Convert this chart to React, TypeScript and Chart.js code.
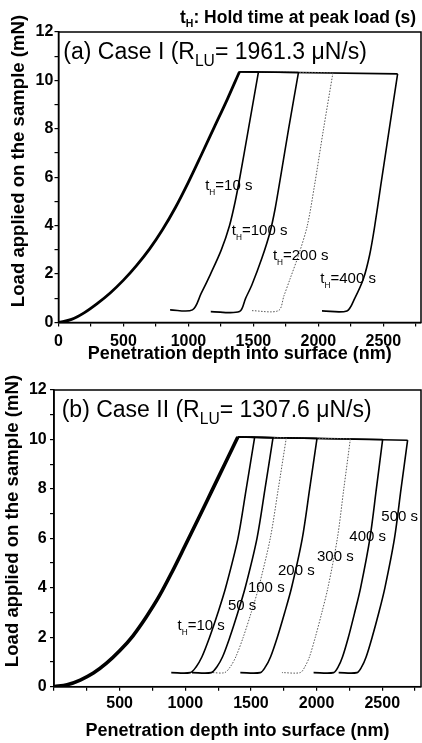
import React, { useEffect, useRef } from "react";
import { Chart, registerables } from "chart.js";

Chart.register(...registerables);

const FONT = "'Liberation Sans', Arial, Helvetica, sans-serif";

// ---------------- Axis ticks ----------------
const X_TICKS = [0, 250, 500, 750, 1000, 1250, 1500, 1750, 2000, 2250, 2500, 2750];
const Y_TICKS = [0, 1, 2, 3, 4, 5, 6, 7, 8, 9, 10, 11, 12];

// ---------------- Panel (a): Case I ----------------
const A_LOADING_DEPTH = [0, 100, 200, 300, 400, 500, 600, 700, 800, 900, 1000, 1100, 1200, 1300, 1393];
const A_LOADING_LOAD = [0, 0.13, 0.41, 0.79, 1.23, 1.75, 2.35, 3.03, 3.83, 4.75, 5.8, 6.93, 8.08, 9.23, 10.36];

// each hold-time curve: hold start, hold end, unloading points, end of the low-load plateau
const A_T10_DEPTH = [1393, 1539, 1462, 1396, 1360, 1316, 1253, 1170, 1098, 1031, 859];
const A_T10_LOAD = [10.36, 10.35, 8, 6, 5, 4, 3, 2, 1.2, 0.52, 0.52];

const A_T100_DEPTH = [1393, 1847, 1771, 1712, 1668, 1629, 1565, 1488, 1440, 1393, 1172];
const A_T100_LOAD = [10.36, 10.33, 8, 6.1, 4.72, 3.75, 2.65, 1.55, 1.0, 0.45, 0.45];

const A_T200_DEPTH = [1393, 2112, 2040, 1970, 1915, 1848, 1782, 1735, 1693, 1483];
const A_T200_LOAD = [10.36, 10.31, 8, 5.65, 4, 2.79, 1.8, 1.1, 0.49, 0.49];

const A_T400_DEPTH = [1393, 2610, 2546, 2480, 2431, 2395, 2348, 2280, 2220, 2028];
const A_T400_LOAD = [10.36, 10.27, 8, 5.65, 3.89, 2.8, 1.83, 1.0, 0.48, 0.48];

const A_LABELS = ["t_{H}=10 s", "t_{H}=100 s", "t_{H}=200 s", "t_{H}=400 s"];
const A_LABEL_DEPTH = [1129, 1334, 1650, 2015];
const A_LABEL_LOAD = [5.69, 3.83, 2.8, 1.83];

// ---------------- Panel (b): Case II ----------------
const B_LOADING_DEPTH = [0, 100, 200, 300, 400, 500, 600, 700, 800, 900, 1000, 1100, 1200, 1300, 1400];
const B_LOADING_LOAD = [0, 0.08, 0.27, 0.55, 0.95, 1.45, 2.05, 2.8, 3.65, 4.65, 5.72, 6.8, 7.9, 9.0, 10.1];

const B_T10_DEPTH = [1400, 1528, 1464, 1401, 1307, 1249, 1185, 1126, 1082, 1038, 893];
const B_T10_LOAD = [10.1, 10.08, 8, 6, 4, 3, 2, 1.2, 0.8, 0.57, 0.57];

const B_T50_DEPTH = [1400, 1668, 1607, 1546, 1456, 1400, 1339, 1283, 1240, 1198, 1051];
const B_T50_LOAD = [10.1, 10.07, 8, 6, 4, 3, 2, 1.2, 0.8, 0.57, 0.57];

const B_T100_DEPTH = [1400, 1769, 1708, 1647, 1558, 1502, 1441, 1384, 1342, 1300, 1205];
const B_T100_LOAD = [10.1, 10.06, 8, 6, 4, 3, 2, 1.2, 0.8, 0.57, 0.57];

const B_T200_DEPTH = [1400, 2003, 1947, 1891, 1809, 1757, 1701, 1649, 1610, 1571, 1419];
const B_T200_LOAD = [10.1, 10.04, 8, 6, 4, 3, 2, 1.2, 0.8, 0.57, 0.57];

const B_T300_DEPTH = [1400, 2257, 2207, 2158, 2086, 2040, 1990, 1945, 1910, 1876, 1736];
const B_T300_LOAD = [10.1, 10.02, 8, 6, 4, 3, 2, 1.2, 0.8, 0.57, 0.57];

const B_T400_DEPTH = [1400, 2503, 2455, 2406, 2335, 2290, 2242, 2197, 2164, 2130, 1977];
const B_T400_LOAD = [10.1, 10.0, 8, 6, 4, 3, 2, 1.2, 0.8, 0.57, 0.57];

const B_T500_DEPTH = [1400, 2693, 2643, 2593, 2520, 2474, 2423, 2377, 2343, 2308, 2168];
const B_T500_LOAD = [10.1, 9.97, 8, 6, 4, 3, 2, 1.2, 0.8, 0.57, 0.57];

const B_LABELS = ["500 s", "400 s", "300 s", "200 s", "100 s", "50 s", "t_{H}=10 s"];
const B_LABEL_DEPTH = [2493, 2249, 2003, 1706, 1477, 1325, 941];
const B_LABEL_LOAD = [6.92, 6.11, 5.3, 4.72, 4.03, 3.31, 2.5];

// ---------------- Text ----------------
const HEADER_TEXT = "t_{H}: Hold time at peak load (s)";
const TITLE_A = "(a) Case I (R_{LU}= 1961.3 μN/s)";
const TITLE_B = "(b) Case II (R_{LU}= 1307.6 μN/s)";
const X_TITLE = "Penetration depth into surface (nm)";
const Y_TITLE = "Load applied on the sample (mN)";

type Part = { t: string; sub: boolean };

function parseRich(text: string): Part[] {
  const parts: Part[] = [];
  const re = /_\{([^}]*)\}/g;
  let last = 0;
  let m: RegExpExecArray | null;
  while ((m = re.exec(text))) {
    if (m.index > last) parts.push({ t: text.slice(last, m.index), sub: false });
    parts.push({ t: m[1], sub: true });
    last = re.lastIndex;
  }
  if (last < text.length) parts.push({ t: text.slice(last), sub: false });
  return parts;
}

function drawRich(
  ctx: CanvasRenderingContext2D,
  text: string,
  x: number,
  yMid: number,
  size: number,
  weight: string,
  subRatio: number,
  subShift: number
) {
  const parts = parseRich(text);
  const base = yMid + 0.3465 * size;
  let cx = x;
  ctx.save();
  ctx.fillStyle = "#000";
  ctx.textAlign = "left";
  ctx.textBaseline = "alphabetic";
  for (const p of parts) {
    const s = p.sub ? size * subRatio : size;
    ctx.font = `${weight} ${s}px ${FONT}`;
    ctx.fillText(p.t, cx, p.sub ? base + size * subShift : base);
    cx += ctx.measureText(p.t).width;
  }
  ctx.restore();
}

type Curve = { depth: number[]; load: number[]; dotted?: boolean; loading?: boolean; width?: number };

type PanelCfg = {
  height: number;
  padTop: number;
  padRight: number;
  yWidth: number;
  xHeight: number;
  xMax: number;
  xTickPad: number;
  yTickPad: number;
  xTitlePadBottom: number;
  yTitleX: number;
  yTitleY: number;
  showZeroX: boolean;
  title: string;
  titleX: number;
  titleY: number;
  header: boolean;
  curves: Curve[];
  labels: string[];
  labelDepth: number[];
  labelLoad: number[];
};

const PANEL_A: PanelCfg = {
  height: 368,
  padTop: 32,
  padRight: 1,
  yWidth: 58.5,
  xHeight: 45.5,
  xMax: 2790,
  xTickPad: 5.3,
  yTickPad: 1.2,
  xTitlePadBottom: 3.5,
  yTitleX: 18.7,
  yTitleY: 161,
  showZeroX: true,
  title: TITLE_A,
  titleX: 63.3,
  titleY: 50.7,
  header: true,
  curves: [
    { depth: A_LOADING_DEPTH, load: A_LOADING_LOAD, loading: true, width: 2.8 },
    { depth: A_T10_DEPTH, load: A_T10_LOAD },
    { depth: A_T100_DEPTH, load: A_T100_LOAD },
    { depth: A_T200_DEPTH, load: A_T200_LOAD, dotted: true },
    { depth: A_T400_DEPTH, load: A_T400_LOAD },
  ],
  labels: A_LABELS,
  labelDepth: A_LABEL_DEPTH,
  labelLoad: A_LABEL_LOAD,
};

const PANEL_B: PanelCfg = {
  height: 375,
  padTop: 22,
  padRight: 1,
  yWidth: 54,
  xHeight: 56.3,
  xMax: 2795,
  xTickPad: 3.4,
  yTickPad: 3.3,
  xTitlePadBottom: 0.8,
  yTitleX: 13.2,
  yTitleY: 153,
  showZeroX: false,
  title: TITLE_B,
  titleX: 61.7,
  titleY: 41.1,
  header: false,
  curves: [
    { depth: B_LOADING_DEPTH, load: B_LOADING_LOAD, loading: true, width: 3.6 },
    { depth: B_T10_DEPTH, load: B_T10_LOAD },
    { depth: B_T50_DEPTH, load: B_T50_LOAD },
    { depth: B_T100_DEPTH, load: B_T100_LOAD, dotted: true },
    { depth: B_T200_DEPTH, load: B_T200_LOAD },
    { depth: B_T300_DEPTH, load: B_T300_LOAD, dotted: true },
    { depth: B_T400_DEPTH, load: B_T400_LOAD },
    { depth: B_T500_DEPTH, load: B_T500_LOAD },
  ],
  labels: B_LABELS,
  labelDepth: B_LABEL_DEPTH,
  labelLoad: B_LABEL_LOAD,
};

function buildDatasets(cfg: PanelCfg) {
  const out: any[] = [];
  for (const c of cfg.curves) {
    const color = c.dotted ? "#555" : "#000";
    const width = c.dotted ? 1 : c.width ?? 1.6;
    const dash = c.dotted ? [1.5, 1.5] : [];
    const pts = c.depth.map((d, i) => ({ x: d, y: c.load[i] }));
    if (c.loading) {
      out.push({
        data: pts,
        showLine: true,
        borderColor: color,
        borderWidth: width,
        borderDash: dash,
        pointRadius: 0,
        cubicInterpolationMode: "monotone",
      });
    } else {
      // hold segment (straight), then unloading + low-load plateau (smoothed)
      out.push({
        data: pts.slice(0, 2),
        showLine: true,
        borderColor: color,
        borderWidth: width,
        borderDash: dash,
        pointRadius: 0,
        tension: 0,
      });
      out.push({
        data: pts.slice(1),
        showLine: true,
        borderColor: color,
        borderWidth: width,
        borderDash: dash,
        pointRadius: 0,
        tension: 0.3,
      });
    }
  }
  return out;
}

function buildChart(canvas: HTMLCanvasElement, cfg: PanelCfg) {
  const decor = {
    id: "decor",
    afterDraw(chart: any) {
      const ctx: CanvasRenderingContext2D = chart.ctx;
      const a = chart.chartArea;
      ctx.save();
      ctx.strokeStyle = "#000";
      ctx.lineWidth = 1.5;
      ctx.strokeRect(a.left, a.top, a.right - a.left, a.bottom - a.top);
      ctx.restore();

      // y-axis title (rotated)
      ctx.save();
      ctx.translate(cfg.yTitleX, cfg.yTitleY);
      ctx.rotate(-Math.PI / 2);
      ctx.fillStyle = "#000";
      ctx.font = `bold 18.6px ${FONT}`;
      ctx.textAlign = "center";
      ctx.textBaseline = "middle";
      ctx.fillText(Y_TITLE, 0, 0);
      ctx.restore();

      drawRich(ctx, cfg.title, cfg.titleX, cfg.titleY, 23, "normal", 0.68, 0.3);
      if (cfg.header) {
        drawRich(ctx, HEADER_TEXT, 180, 16.8, 17.5, "bold", 0.6, 0.24);
      }
      const xs = chart.scales.x;
      const ys = chart.scales.y;
      cfg.labels.forEach((t, i) => {
        drawRich(
          ctx,
          t,
          xs.getPixelForValue(cfg.labelDepth[i]),
          ys.getPixelForValue(cfg.labelLoad[i]),
          15,
          "normal",
          0.55,
          0.33
        );
      });
    },
  };

  return new Chart(canvas, {
    type: "scatter",
    data: { datasets: buildDatasets(cfg) },
    options: {
      animation: false,
      responsive: false,
      devicePixelRatio: 1,
      layout: { padding: { top: cfg.padTop, right: cfg.padRight, bottom: 0, left: 0 } },
      plugins: { legend: { display: false }, tooltip: { enabled: false } },
      scales: {
        x: {
          type: "linear",
          min: 0,
          max: cfg.xMax,
          afterBuildTicks: (s: any) => {
            s.ticks = X_TICKS.map((v) => ({ value: v }));
          },
          ticks: {
            autoSkip: false,
            maxRotation: 0,
            minRotation: 0,
            padding: cfg.xTickPad,
            color: "#000",
            font: { family: FONT, size: 16, weight: "bold" },
            callback: (v: any) => {
              const n = Math.round(Number(v));
              if (n % 500 !== 0) return "";
              if (n === 0 && !cfg.showZeroX) return "";
              return String(n);
            },
          },
          grid: {
            display: true,
            drawOnChartArea: false,
            drawTicks: true,
            tickLength: 4,
            color: "#000",
            lineWidth: 1.2,
          },
          border: { display: true, color: "#000", width: 1.5 },
          title: {
            display: true,
            text: X_TITLE,
            color: "#000",
            font: { family: FONT, size: 18, weight: "bold" },
            padding: { top: 0, bottom: cfg.xTitlePadBottom },
          },
          afterFit: (s: any) => {
            s.height = cfg.xHeight;
          },
        },
        y: {
          type: "linear",
          min: 0,
          max: 12,
          afterBuildTicks: (s: any) => {
            s.ticks = Y_TICKS.map((v) => ({ value: v }));
          },
          ticks: {
            autoSkip: false,
            padding: cfg.yTickPad,
            color: "#000",
            font: { family: FONT, size: 16, weight: "bold" },
            callback: (v: any) => {
              const n = Math.round(Number(v));
              return n % 2 === 0 ? String(n) : "";
            },
          },
          grid: {
            display: true,
            drawOnChartArea: false,
            drawTicks: true,
            tickLength: 4,
            color: "#000",
            lineWidth: 1.2,
          },
          border: { display: true, color: "#000", width: 1.5 },
          title: { display: false },
          afterFit: (s: any) => {
            s.width = cfg.yWidth;
          },
        },
      },
    } as any,
    plugins: [decor],
  });
}

function Panel({ cfg, top }: { cfg: PanelCfg; top: number }) {
  const ref = useRef<HTMLCanvasElement>(null);
  useEffect(() => {
    const chart = buildChart(ref.current!, cfg);
    return () => chart.destroy();
  }, []);
  return (
    <canvas
      ref={ref}
      width={422}
      height={cfg.height}
      style={{ position: "absolute", left: 0, top, width: 422, height: cfg.height, display: "block" }}
    />
  );
}

export default function App() {
  return (
    <div
      style={{
        position: "absolute",
        left: 0,
        top: 0,
        width: 422,
        height: 743,
        background: "#fff",
        overflow: "hidden",
      }}
    >
      <Panel cfg={PANEL_A} top={0} />
      <Panel cfg={PANEL_B} top={368} />
    </div>
  );
}
